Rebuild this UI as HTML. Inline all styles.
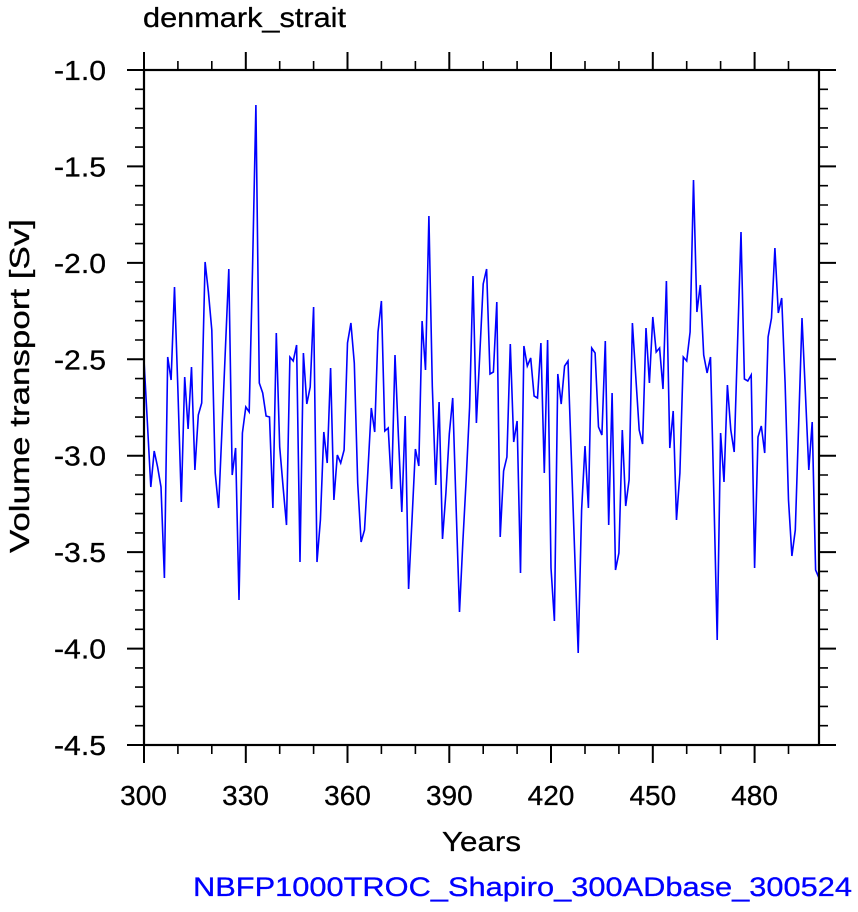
<!DOCTYPE html>
<html><head><meta charset="utf-8"><style>
html,body{margin:0;padding:0;background:#fff;}
svg{display:block;}
text{font-family:"Liberation Sans",Arial,sans-serif;fill:#000;}
</style></head><body>
<svg width="858" height="912" viewBox="0 0 858 912" xmlns="http://www.w3.org/2000/svg">
<rect width="858" height="912" fill="#fff"/>
<text x="143" y="27" font-size="28" textLength="203" lengthAdjust="spacingAndGlyphs" stroke="#000" stroke-width="0.3">denmark_strait</text>
<polyline fill="none" stroke="#0000ff" stroke-width="1.6" stroke-linejoin="miter" points="
144.0,360 147.4,423 150.8,487 154.2,451 157.6,467 161.0,487 164.4,578 167.7,357 171.1,380 174.5,287
177.9,390 181.3,502 184.7,377 188.1,429 191.5,367 194.9,470 198.3,415 201.7,403 205.1,262 208.4,292
211.8,330 215.2,473 218.6,508 222.0,429 225.4,349 228.8,269 232.2,475 235.6,448 239.0,600 242.4,433
245.8,407 249.2,412 252.5,270 255.9,105 259.3,383 262.7,393 266.1,416 269.5,417 272.9,508 276.3,333
279.7,447 283.1,487 286.5,525 289.9,357 293.2,361 296.6,345 300.0,562 303.4,353 306.8,404 310.2,387
313.6,307 317.0,562 320.4,520 323.8,432 327.2,463 330.6,368 333.9,500 337.3,455 340.7,463 344.1,450
347.5,343 350.9,323 354.3,363 357.7,483 361.1,542 364.5,530 367.9,471 371.3,408 374.7,432 378.0,332
381.4,301 384.8,431 388.2,428 391.6,489 395.0,355 398.4,436 401.8,512 405.2,416 408.6,589 412.0,520
415.4,449 418.8,466 422.1,321 425.5,370 428.9,216 432.3,386 435.7,485 439.1,402 442.5,539 445.9,493
449.3,434 452.7,398 456.1,507 459.5,612 462.8,543 466.2,479 469.6,407 473.0,276 476.4,423 479.8,354
483.2,284 486.6,269 490.0,374 493.4,372 496.8,302 500.2,537 503.6,471 506.9,457 510.3,344 513.7,442
517.1,421 520.5,573 523.9,346 527.3,366 530.7,358 534.1,396 537.5,398 540.9,343 544.3,473 547.6,340
551.0,568 554.4,621 557.8,374 561.2,404 564.6,366 568.0,361 571.4,459 574.8,556 578.2,653 581.6,510
585.0,446 588.4,508 591.7,348 595.1,353 598.5,427 601.9,435 605.3,341 608.7,525 612.1,393 615.5,570
618.9,553 622.3,430 625.7,506 629.1,480 632.4,323 635.8,377 639.2,430 642.6,444 646.0,328 649.4,383
652.8,317 656.2,352 659.6,348 663.0,389 666.4,281 669.8,448 673.2,411 676.5,520 679.9,473 683.3,357
686.7,361 690.1,332 693.5,180 696.9,312 700.3,285 703.7,355 707.1,373 710.5,357 713.9,497 717.2,640
720.6,433 724.0,482 727.4,385 730.8,430 734.2,452 737.6,342 741.0,232 744.4,379 747.8,381 751.2,375
754.6,568 758.0,437 761.3,426 764.7,453 768.1,337 771.5,318 774.9,248 778.3,313 781.7,298 785.1,383
788.5,500 791.9,556 795.3,530 798.7,423 802.0,318 805.4,393 808.8,470 812.2,422 815.6,570 819.0,578"/>
<rect x="144" y="70" width="675" height="675" fill="none" stroke="#000" stroke-width="2.2"/>
<path fill="none" stroke="#000" stroke-width="2" d="
M127 70H144M127 166.4H144M127 262.9H144M127 359.3H144M127 455.7H144M127 552.1H144M127 648.6H144M127 745H144
M819 70H836M819 166.4H836M819 262.9H836M819 359.3H836M819 455.7H836M819 552.1H836M819 648.6H836M819 745H836
M144 70V52M245.8 70V52M347.5 70V52M449.3 70V52M551 70V52M652.8 70V52M754.6 70V52
M144 745V763M245.8 745V763M347.5 745V763M449.3 745V763M551 745V763M652.8 745V763M754.6 745V763"/>
<path fill="none" stroke="#000" stroke-width="1.6" d="
M135 89.3H144M135 108.6H144M135 127.9H144M135 147.1H144M135 185.7H144M135 205H144M135 224.3H144M135 243.6H144
M135 282.1H144M135 301.4H144M135 320.7H144M135 340H144M135 378.6H144M135 397.9H144M135 417.1H144M135 436.4H144
M135 475H144M135 494.3H144M135 513.6H144M135 532.9H144M135 571.4H144M135 590.7H144M135 610H144M135 629.3H144
M135 667.9H144M135 687.1H144M135 706.4H144M135 725.7H144
M819 89.3H828M819 108.6H828M819 127.9H828M819 147.1H828M819 185.7H828M819 205H828M819 224.3H828M819 243.6H828
M819 282.1H828M819 301.4H828M819 320.7H828M819 340H828M819 378.6H828M819 397.9H828M819 417.1H828M819 436.4H828
M819 475H828M819 494.3H828M819 513.6H828M819 532.9H828M819 571.4H828M819 590.7H828M819 610H828M819 629.3H828
M819 667.9H828M819 687.1H828M819 706.4H828M819 725.7H828
M177.9 70V61M211.8 70V61M279.7 70V61M313.6 70V61M381.4 70V61M415.4 70V61M483.2 70V61M517.1 70V61M585 70V61M618.9 70V61M686.7 70V61M720.6 70V61M788.5 70V61
M177.9 745V754M211.8 745V754M279.7 745V754M313.6 745V754M381.4 745V754M415.4 745V754M483.2 745V754M517.1 745V754M585 745V754M618.9 745V754M686.7 745V754M720.6 745V754M788.5 745V754"/>
<g font-size="28" text-anchor="end" stroke="#000" stroke-width="0.3">
<text x="106" y="80" textLength="52" lengthAdjust="spacingAndGlyphs">-1.0</text>
<text x="106" y="176.4" textLength="52" lengthAdjust="spacingAndGlyphs">-1.5</text>
<text x="106" y="272.9" textLength="52" lengthAdjust="spacingAndGlyphs">-2.0</text>
<text x="106" y="369.3" textLength="52" lengthAdjust="spacingAndGlyphs">-2.5</text>
<text x="106" y="465.7" textLength="52" lengthAdjust="spacingAndGlyphs">-3.0</text>
<text x="106" y="562.1" textLength="52" lengthAdjust="spacingAndGlyphs">-3.5</text>
<text x="106" y="658.6" textLength="52" lengthAdjust="spacingAndGlyphs">-4.0</text>
<text x="106" y="755" textLength="52" lengthAdjust="spacingAndGlyphs">-4.5</text>
</g>
<g font-size="28" text-anchor="middle" stroke="#000" stroke-width="0.3">
<text x="143.5" y="805">300</text>
<text x="245.5" y="805">330</text>
<text x="347.5" y="805">360</text>
<text x="449.3" y="805">390</text>
<text x="551" y="805">420</text>
<text x="652.8" y="805">450</text>
<text x="754.6" y="805">480</text>
</g>
<text x="481.5" y="851" font-size="28" text-anchor="middle" textLength="79" lengthAdjust="spacingAndGlyphs" stroke="#000" stroke-width="0.3">Years</text>
<text transform="translate(29,386) rotate(-90)" font-size="28" text-anchor="middle" textLength="334" lengthAdjust="spacingAndGlyphs" stroke="#000" stroke-width="0.3">Volume transport [Sv]</text>
<text x="193" y="896" font-size="27" textLength="659" lengthAdjust="spacingAndGlyphs" style="fill:#0000ff;stroke:#0000ff;stroke-width:0.3">NBFP1000TROC_Shapiro_300ADbase_300524</text>
</svg>
</body></html>
